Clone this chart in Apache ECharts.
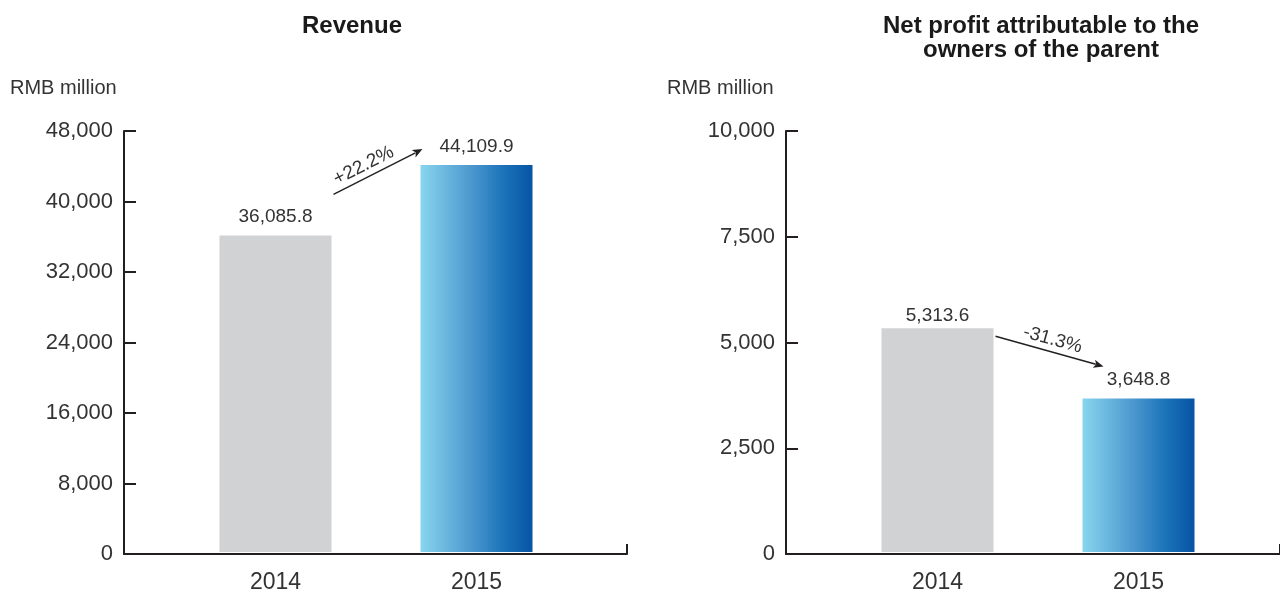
<!DOCTYPE html>
<html>
<head>
<meta charset="utf-8">
<script src="https://cdn.jsdelivr.net/npm/echarts@6/dist/echarts.min.js"></script>
<style>
html,body{margin:0;padding:0;background:#fff;}
#chart{width:1280px;height:594px;}
</style>
</head>
<body>
<div id="chart"></div>
<script>
// ---- data ----
const categories = ['2014', '2015'];
const revenue = [36085.8, 44109.9];
const netProfit = [5313.6, 3648.8];
const revenueAxis = { min: 0, max: 48000, interval: 8000 };
const profitAxis = { min: 0, max: 10000, interval: 2500 };
const titles = ['Revenue', 'Net profit attributable to the\nowners of the parent'];
const unitLabel = 'RMB million';
const changeLabels = ['+22.2%', '-31.3%'];

// ---- style ----
const FONT = "'Liberation Sans', Arial, sans-serif";
const TEXT = '#333333';
const AXIS = '#231f20';
const GREY = '#d1d2d4';
const makeGrad = () => new echarts.graphic.LinearGradient(0, 0, 1, 0, [
  { offset: 0, color: '#88d5ee' },
  { offset: 0.45, color: '#4c98cf' },
  { offset: 0.75, color: '#1a72b8' },
  { offset: 1, color: '#0654a5' }
]);
const labelDist = [[9, 9], [3, 9]];
const TOP = 131, H = 423;
const panels = [
  { frameLeft: 124, barLeft: 175, values: revenue, axis: revenueAxis, titleX: 352, titleY: 26, unitX: 10 },
  { frameLeft: 786, barLeft: 837, values: netProfit, axis: profitAxis, titleX: 1041, titleY: 38, unitX: 667 }
];
const fmt = v => v.toLocaleString('en-US', { minimumFractionDigits: 1, maximumFractionDigits: 1 });

const grid = [], xAxis = [], yAxis = [], series = [], graphic = [];
panels.forEach((p, i) => {
  // frame grid (axes)
  grid.push({ left: p.frameLeft, top: TOP, width: 503, height: H });
  xAxis.push({
    type: 'value', gridIndex: 2 * i, min: 0, max: 1, interval: 1,
    axisLine: { show: true, lineStyle: { color: AXIS, width: 2 } },
    axisTick: { show: true, inside: true, length: 10, lineStyle: { color: AXIS, width: 2 } },
    axisLabel: { show: false }, splitLine: { show: false }
  });
  yAxis.push({
    type: 'value', gridIndex: 2 * i, min: p.axis.min, max: p.axis.max, interval: p.axis.interval,
    axisLine: { show: true, lineStyle: { color: AXIS, width: 2 } },
    axisTick: { show: true, inside: true, length: 12, lineStyle: { color: AXIS, width: 2 } },
    axisLabel: { color: TEXT, fontSize: 22, fontFamily: FONT, margin: 11 },
    splitLine: { show: false }
  });
  // bar grid
  grid.push({ left: p.barLeft, top: TOP, width: 402, height: H });
  xAxis.push({
    type: 'category', gridIndex: 2 * i + 1, data: categories,
    axisLine: { show: false }, axisTick: { show: false },
    axisLabel: { color: TEXT, fontSize: 23, fontFamily: FONT, margin: 19 }
  });
  yAxis.push({ type: 'value', gridIndex: 2 * i + 1, min: p.axis.min, max: p.axis.max, show: false });
  series.push({
    type: 'bar', xAxisIndex: 2 * i + 1, yAxisIndex: 2 * i + 1, barWidth: 112,
    data: p.values.map((v, j) => ({
      value: v,
      itemStyle: { color: j === 0 ? GREY : makeGrad() },
      label: { distance: labelDist[i][j] }
    })),
    label: {
      show: true, position: 'top', color: TEXT, fontSize: 19, fontFamily: FONT,
      formatter: d => fmt(d.value)
    },
    silent: true
  });
  graphic.push({
    type: 'text', x: p.titleX, y: p.titleY,
    style: { text: titles[i], fontFamily: FONT, fontWeight: 'bold', fontSize: 24, fill: '#1a1a1a', textAlign: 'center', textVerticalAlign: 'middle', lineHeight: 24 }
  });
  graphic.push({
    type: 'text', x: p.unitX, y: 88,
    style: { text: unitLabel, fontFamily: FONT, fontSize: 20, fill: TEXT, textAlign: 'left', textVerticalAlign: 'middle' }
  });
});

const chart = echarts.init(document.getElementById('chart'), null, { renderer: 'canvas' });
chart.setOption({ animation: false, grid, xAxis, yAxis, series, graphic });

// arrows between bars (offsets in pixels relative to bar tops)
const arrowOff = [
  { s: [58, -41], e: [-54, -16], t: 0.4 },
  { s: [58, 8], e: [-35, -32], t: 0.5 }
];
panels.forEach((p, i) => {
  const g = { gridIndex: 2 * i + 1 };
  const a = chart.convertToPixel(g, [categories[0], p.values[0]]);
  const b = chart.convertToPixel(g, [categories[1], p.values[1]]);
  const o = arrowOff[i];
  const sx = a[0] + o.s[0], sy = a[1] + o.s[1];
  const ex = b[0] + o.e[0], ey = b[1] + o.e[1];
  const dx = ex - sx, dy = ey - sy, len = Math.hypot(dx, dy);
  const ux = dx / len, uy = dy / len;
  const hl = 10, hw = 4.2;
  const bx = ex - ux * hl, by = ey - uy * hl;
  graphic.push({
    type: 'line', shape: { x1: sx, y1: sy, x2: bx + ux * 2, y2: by + uy * 2 },
    style: { stroke: AXIS, lineWidth: 1.4 }
  });
  graphic.push({
    type: 'polygon',
    shape: { points: [[ex, ey], [bx - uy * hw, by + ux * hw], [bx + ux * 2.5, by + uy * 2.5], [bx + uy * hw, by - ux * hw]] },
    style: { fill: AXIS }
  });
  const nx = uy, ny = -ux;
  const tx = sx + dx * o.t + nx * 12, ty = sy + dy * o.t + ny * 12;
  graphic.push({
    type: 'text', x: tx, y: ty, rotation: -Math.atan2(dy, dx),
    style: { text: changeLabels[i], fontFamily: FONT, fontSize: 19, fill: TEXT, textAlign: 'center', textVerticalAlign: 'middle' }
  });
});
chart.setOption({ graphic });
</script>
</body>
</html>
